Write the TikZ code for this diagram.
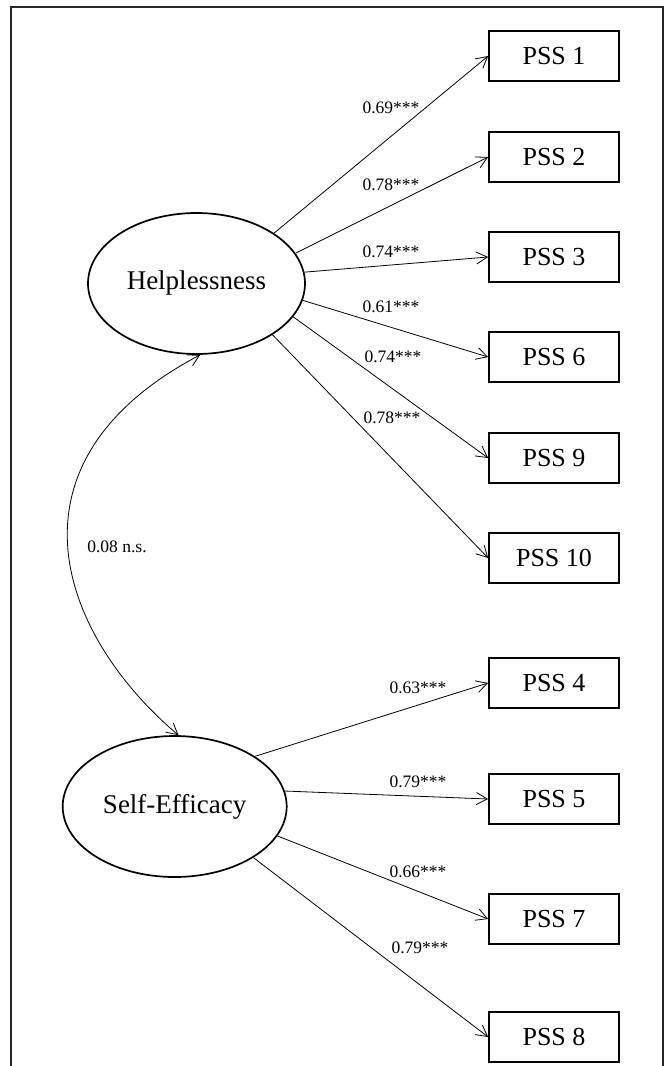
\documentclass[tikz,border=0pt]{standalone}
\usepackage{fontspec}
\setmainfont{Liberation Serif}
\usetikzlibrary{arrows.meta,shapes.geometric}
\begin{document}
\begin{tikzpicture}[x=1pt,y=-1pt,
  lat/.style={draw, line width=1.7pt, ellipse, inner sep=0pt, minimum height=141pt, font=\fontsize{27}{30}\selectfont},
  obs/.style={draw, line width=1.7pt, rectangle, minimum width=130pt, minimum height=50pt, inner sep=0pt, font=\fontsize{26}{30}\selectfont},
  ld/.style={line width=0.8pt, -{Straight Barb[length=11pt,width=12pt]}},
  cv/.style={line width=0.8pt, {Straight Barb[length=11pt,width=12pt]}-{Straight Barb[length=11pt,width=12pt]}},
  coef/.style={font=\fontsize{17.5}{20}\selectfont, inner sep=0pt},
  frame/.style={line width=2.6pt, draw=black!85},
]
\useasboundingbox (0,0) rectangle (668,1066);
\draw[frame] (11,1066) -- (11,7) -- (663,7) -- (663,1066);

\node[lat, minimum width=217pt] (H) at (196.5,283.5) {Helplessness};
\node[lat, minimum width=224pt] (S) at (174.7,806.5) {Self-Efficacy};

\node[obs] (P1) at (554,56) {PSS 1};
\node[obs] (P2) at (554,157) {PSS 2};
\node[obs] (P3) at (554,257) {PSS 3};
\node[obs] (P6) at (554,357) {PSS 6};
\node[obs] (P9) at (554,458) {PSS 9};
\node[obs] (P10) at (554,558) {PSS 10};
\node[obs] (P4) at (554,683) {PSS 4};
\node[obs] (P5) at (554,799) {PSS 5};
\node[obs] (P7) at (554,919) {PSS 7};
\node[obs] (P8) at (554,1037) {PSS 8};

\draw[ld] (H.33) -- (P1.west);
\draw[ld] (H.17.5) -- (P2.west);
\draw[ld] (H.6) -- (P3.west);
\draw[ld] (H.-9.5) -- (P6.west);
\draw[ld] (H.-19) -- (P9.west);
\draw[ld] (H.-34) -- (P10.west);

\draw[ld] (S.32) -- (P4.west);
\draw[ld] (S.8) -- (P5.west);
\draw[ld] (S.-16) -- (P7.west);
\draw[ld] (S.-33) -- (P8.west);

\draw[cv] (H.-87) .. controls (-3,462) and (58,633) .. (S.87);

\node[coef] (c1) at (391,108) {0.69***};
\node[coef] (c2) at (391,185) {0.78***};
\node[coef] (c3) at (391,252) {0.74***};
\node[coef] (c6) at (391,307) {0.61***};
\node[coef] (c9) at (393,357) {0.74***};
\node[coef] (c10) at (392,418) {0.78***};
\node[coef] (c4) at (418,688) {0.63***};
\node[coef] (c5) at (418,782) {0.79***};
\node[coef] (c7) at (418,872) {0.66***};
\node[coef] (c8) at (420,948) {0.79***};
\node[coef] (cov) at (117,547) {0.08 n.s.};
\end{tikzpicture}
\end{document}
